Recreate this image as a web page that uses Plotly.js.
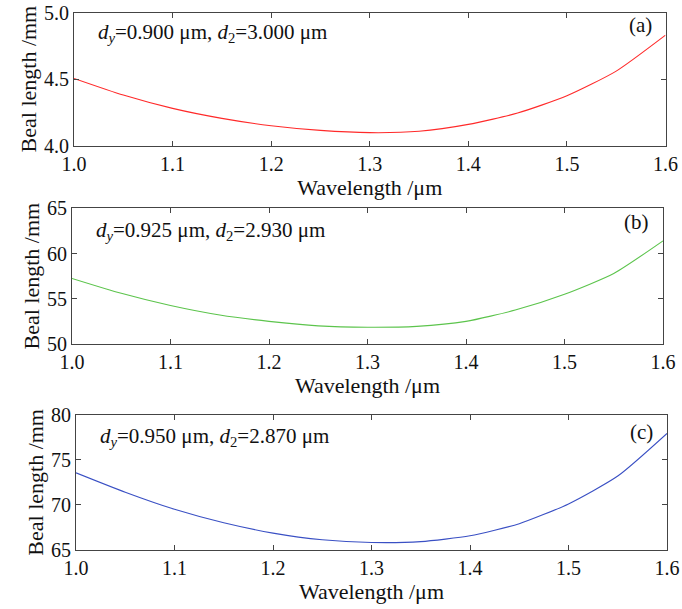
<!DOCTYPE html>
<html>
<head>
<meta charset="utf-8">
<script src="https://cdn.plot.ly/plotly-3.0.1.min.js"></script>
<style>html,body{margin:0;padding:0;background:#fff;}#chart{width:682px;height:609px;}</style>
</head>
<body>
<div id="chart"></div>
<script>
const wavelength = [1.00, 1.05, 1.10, 1.15, 1.20, 1.25, 1.30, 1.35, 1.40, 1.45, 1.50, 1.55, 1.60];
const bealA = [4.505, 4.38, 4.28, 4.205, 4.15, 4.115, 4.098, 4.108, 4.16, 4.245, 4.375, 4.56, 4.83];
const bealB = [57.25, 55.6, 54.25, 53.2, 52.5, 52.0, 51.85, 51.95, 52.5, 53.75, 55.5, 57.8, 61.4];
const bealC = [73.56, 71.4, 69.5, 68.0, 66.85, 66.1, 65.8, 65.9, 66.55, 67.9, 70.1, 73.2, 77.95];
const xTicks = [1.0, 1.1, 1.2, 1.3, 1.4, 1.5, 1.6];
const xTickText = ['1.0', '1.1', '1.2', '1.3', '1.4', '1.5', '1.6'];
const yTicksA = [4.0, 4.5, 5.0];
const yTickTextA = ['4.0', '4.5', '5.0'];
const yTicksB = [50, 55, 60, 65];
const yTicksC = [65, 70, 75, 80];
const labelsA = ['<i>d</i><sub><i>y</i></sub>=0.900 μm, <i>d</i><sub>2</sub>=3.000 μm', '(a)'];
const labelsB = ['<i>d</i><sub><i>y</i></sub>=0.925 μm, <i>d</i><sub>2</sub>=2.930 μm', '(b)'];
const labelsC = ['<i>d</i><sub><i>y</i></sub>=0.950 μm, <i>d</i><sub>2</sub>=2.870 μm', '(c)'];
const xTitle = 'Wavelength /μm';
const yTitle = 'Beal length /mm';

const W = 682, H = 609;
const FONT = 'Liberation Serif';
const fx = p => p / W;
const fy = p => 1 - p / H;

const panels = [
  {l: 74, r: 665.5, t: 12.5, b: 145.7, yr: [4, 5], yt: yTicksA, ytt: yTickTextA, lab: labelsA, y: bealA, color: '#ff2a2a', ay1: 20.5, ay2: 12.5},
  {l: 72, r: 663, t: 208.3, b: 344, yr: [50, 65], yt: yTicksB, ytt: yTicksB.map(String), lab: labelsB, y: bealB, color: '#5cc44c', ay1: 22.4, ay2: 13.7},
  {l: 76, r: 667, t: 415, b: 549.7, yr: [65, 80], yt: yTicksC, ytt: yTicksC.map(String), lab: labelsC, y: bealC, color: '#3a50c4', ay1: 21.7, ay2: 16.7}
];

const data = [];
const layout = {
  width: W, height: H,
  margin: {l: 0, r: 0, t: 0, b: 0},
  paper_bgcolor: '#fff', plot_bgcolor: '#fff',
  showlegend: false,
  font: {family: FONT, size: 20, color: '#111'},
  annotations: []
};

panels.forEach((p, i) => {
  const n = i + 1;
  const xa = 'x' + (n === 1 ? '' : n), ya = 'y' + (n === 1 ? '' : n);
  data.push({x: wavelength, y: p.y, type: 'scatter', mode: 'lines',
    line: {color: p.color, width: 1.1, shape: 'spline', smoothing: 0.6}, xaxis: xa, yaxis: ya, hoverinfo: 'skip'});
  const axCommon = {
    showline: true, linecolor: '#444', linewidth: 1, mirror: 'ticks',
    ticks: 'inside', ticklen: 5, tickwidth: 1, tickcolor: '#444',
    showgrid: false, zeroline: false, fixedrange: true,
    tickfont: {family: FONT, size: 20, color: '#111'}
  };
  layout['xaxis' + (n === 1 ? '' : n)] = Object.assign({}, axCommon, {
    domain: [fx(p.l), fx(p.r)], anchor: ya, range: [1.0, 1.6],
    tickmode: 'array', tickvals: xTicks, ticktext: xTickText,
    title: {text: xTitle, font: {family: FONT, size: 22, color: '#111'}, standoff: 2}
  });
  layout['yaxis' + (n === 1 ? '' : n)] = Object.assign({}, axCommon, {
    domain: [fy(p.b), fy(p.t)], anchor: xa, range: p.yr,
    tickmode: 'array', tickvals: p.yt, ticktext: p.ytt,
    title: {text: yTitle, font: {family: FONT, size: 22, color: '#111'}, standoff: 1}
  });
  layout.annotations.push({xref: 'paper', yref: 'paper', x: fx(p.l + 22), y: fy(p.t + p.ay1),
    xanchor: 'left', yanchor: 'middle', showarrow: false, text: p.lab[0],
    font: {family: FONT, size: 21, color: '#111'}});
  layout.annotations.push({xref: 'paper', yref: 'paper', x: fx(p.r - 12), y: fy(p.t + p.ay2),
    xanchor: 'right', yanchor: 'middle', showarrow: false, text: p.lab[1],
    font: {family: FONT, size: 21, color: '#111'}});
});

Plotly.newPlot('chart', data, layout, {displayModeBar: false, staticPlot: true});
</script>
</body>
</html>
